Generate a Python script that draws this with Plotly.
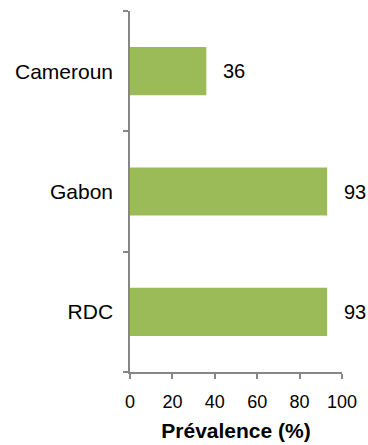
import plotly.graph_objects as go

categories = ["RDC", "Gabon", "Cameroun"]
values = [93, 93, 36]
x_ticks = [0, 20, 40, 60, 80, 100]
x_title = "Prévalence (%)"

FONT = "Arial, Liberation Sans, sans-serif"

fig = go.Figure()
fig.add_trace(go.Bar(
    x=values, y=categories, orientation="h",
    marker=dict(color="#9BBB59", line=dict(width=0)),
    width=0.4,
))
for c, v in zip(categories, values):
    fig.add_annotation(x=v, y=c, text=str(v), showarrow=False,
                       xanchor="left", xshift=15,
                       font=dict(family=FONT, size=20, color="black"))

fig.update_layout(
    width=368, height=445,
    margin=dict(l=130, r=26, t=11, b=73),
    plot_bgcolor="white", paper_bgcolor="white",
    showlegend=False,
    font=dict(family=FONT, color="black"),
)
fig.update_xaxes(
    automargin=False,
    range=[0, 100], tickvals=x_ticks, showgrid=False, zeroline=False,
    showline=True, linecolor="#868686", linewidth=1.5,
    ticks="outside", ticklen=5, tickcolor="#868686", tickwidth=1.5,
    tickfont=dict(size=18), ticklabelstandoff=8,
    title=dict(text="<b>" + x_title + "</b>", font=dict(size=21), standoff=12),
)
fig.update_yaxes(
    automargin=False,
    range=[-0.5, 2.5], showgrid=False, zeroline=False,
    showline=True, linecolor="#868686", linewidth=1.5,
    ticks="outside", ticklen=5, tickcolor="#868686", tickwidth=1.5,
    tickson="boundaries", tickfont=dict(size=21),
    ticklabelstandoff=11,
)
fig.write_html("out.html")
